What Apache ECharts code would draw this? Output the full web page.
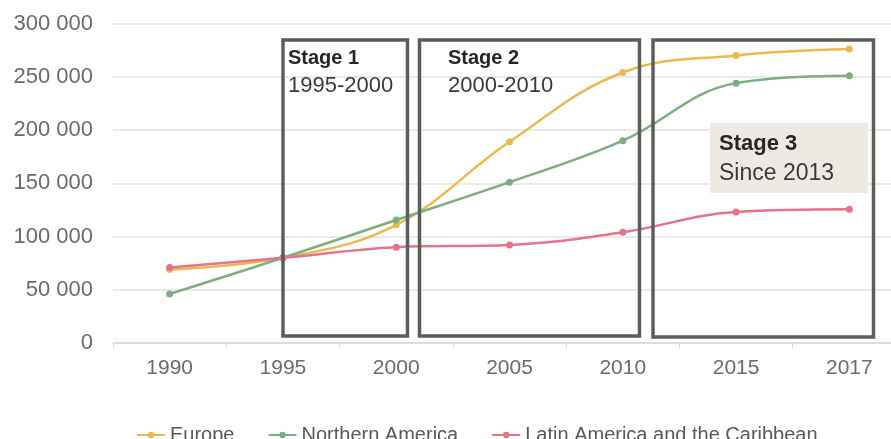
<!DOCTYPE html>
<html lang="en">
<head>
    <meta charset="UTF-8">
    <title>Migrant stock by region</title>
    <script src="https://cdn.jsdelivr.net/npm/echarts@6/dist/echarts.min.js"></script>
    <style>
        html, body { margin: 0; padding: 0; background: #fff; overflow: hidden; }
        /* the plot runs a little past the right edge of the window, like the original */
        #main { width: 906px; height: 439px; }
    </style>
</head>
<body>
    <div id="main"></div>
    <script>
        // data
        var years = ['1990', '1995', '2000', '2005', '2010', '2015', '2017'];
        var europe = [69000, 80000, 111000, 189000, 254000, 270000, 276000];
        var northAmerica = [46000, 80000, 115500, 151000, 190000, 244000, 251000];
        var latinAmerica = [71000, 80000, 90000, 92000, 104000, 123000, 125500];
        var seriesNames = ['Europe', 'Northern America', 'Latin America and the Caribbean'];
        var colors = ['#e9ba4f', '#7dae82', '#e57389'];

        var boxColor = '#5d5d59';
        var labelFont = '"Liberation Sans", Arial, sans-serif';

        function makeSeries(name, data, color) {
            return {
                name: name,
                type: 'line',
                data: data,
                smooth: 0.4,
                symbol: 'circle',
                symbolSize: 7,
                itemStyle: { color: color },
                lineStyle: { color: color, width: 2.5 },
                z: 2
            };
        }

        function box(x, y, w, h) {
            return {
                type: 'rect',
                z: 100,
                shape: { x: x, y: y, width: w, height: h },
                style: { fill: null, stroke: boxColor, lineWidth: 3.5 }
            };
        }

        function label(text, x, y, bold, size) {
            return {
                type: 'text',
                z: 101,
                x: x,
                y: y,
                style: {
                    text: text,
                    fill: bold ? '#262626' : '#3a3a3a',
                    font: (bold ? '600 ' : '') + size + 'px ' + labelFont,
                    textVerticalAlign: 'middle'
                }
            };
        }

        var chart = echarts.init(document.getElementById('main'));

        var option = {
            animation: false,
            color: colors,
            grid: { left: 113, right: 0, top: 23.5, bottom: 96 },
            legend: {
                data: seriesNames,
                left: 131,
                top: 420,
                itemWidth: 28,
                itemHeight: 8,
                itemGap: 33,
                textStyle: {
                    color: '#595959',
                    fontSize: 20,
                    fontFamily: labelFont
                }
            },
            xAxis: {
                type: 'category',
                data: years,
                boundaryGap: true,
                axisLine: { lineStyle: { color: '#d9d9d9', width: 1.5 } },
                axisTick: { show: true, length: 5, lineStyle: { color: '#d9d9d9' } },
                axisLabel: {
                    color: '#6b6b6b',
                    fontSize: 21,
                    fontFamily: labelFont,
                    margin: 15
                }
            },
            yAxis: {
                type: 'value',
                min: 0,
                max: 300000,
                interval: 50000,
                axisLine: { show: false },
                axisTick: { show: false },
                splitLine: { lineStyle: { color: '#e3e3e3', width: 1.5 } },
                axisLabel: {
                    color: '#6b6b6b',
                    fontSize: 22,
                    fontFamily: labelFont,
                    margin: 20,
                    formatter: function (v) {
                        return String(v).replace(/\B(?=(\d{3})+(?!\d))/g, ' ');
                    }
                }
            },
            series: [
                makeSeries(seriesNames[0], europe, colors[0]),
                makeSeries(seriesNames[1], northAmerica, colors[1]),
                makeSeries(seriesNames[2], latinAmerica, colors[2])
            ],
            graphic: [
                box(283, 40, 124.5, 296),
                box(419.5, 40, 220, 296),
                box(653, 40, 220.5, 297),
                {
                    type: 'rect',
                    z: 100,
                    shape: { x: 710, y: 123, width: 158, height: 70 },
                    style: { fill: '#edeae3' }
                },
                label('Stage 1', 288, 58.5, true, 20),
                label('1995-2000', 288, 85.5, false, 22),
                label('Stage 2', 448, 58.5, true, 20),
                label('2000-2010', 448, 85.5, false, 22),
                label('Stage 3', 719, 143.5, true, 22),
                label('Since 2013', 719, 173.5, false, 23)
            ]
        };

        chart.setOption(option);
    </script>
</body>
</html>
